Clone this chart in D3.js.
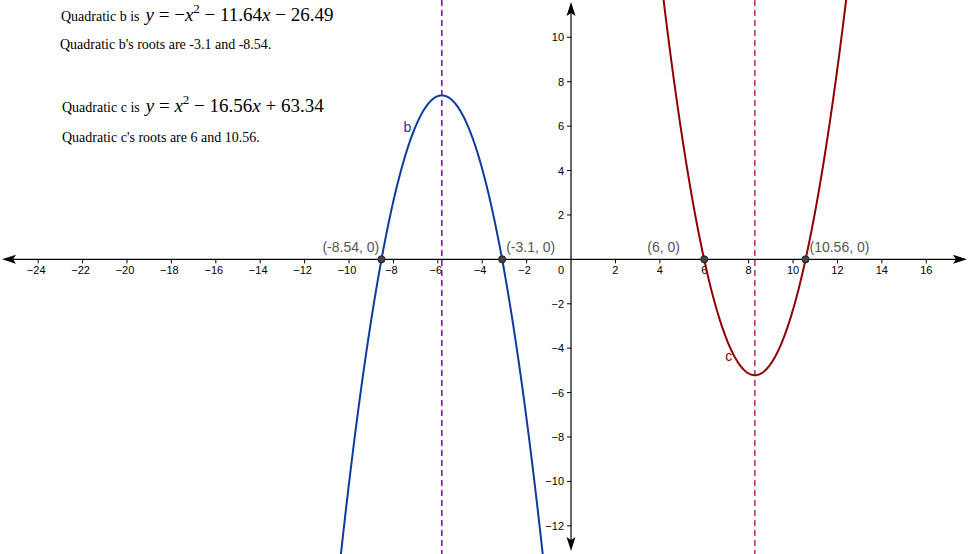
<!DOCTYPE html>
<html><head><meta charset="utf-8">
<script src="https://cdn.jsdelivr.net/npm/d3@7"></script>
<style>
html,body{margin:0;padding:0;background:#fff;}
svg{display:block;}
</style></head>
<body>
<svg id="chart" width="970" height="554"></svg>
<script>
// ---- data ----
const quadB = {name: "b", a: -1, b: -11.64, c: -26.49};
const quadC = {name: "c", a: 1, b: -16.56, c: 63.34};
const rootsB = [-8.54, -3.1];
const rootsC = [6, 10.56];
const rootLabels = ["(-8.54, 0)", "(-3.1, 0)", "(6, 0)", "(10.56, 0)"];
const xTicks = [-24,-22,-20,-18,-16,-14,-12,-10,-8,-6,-4,-2,2,4,6,8,10,12,14,16];
const yTicks = [-12,-10,-8,-6,-4,-2,2,4,6,8,10];
const textLines = [
  "Quadratic b's roots are -3.1 and -8.54.",
  "Quadratic c's roots are 6 and 10.56."
];

const W = 970, H = 554;
const svg = d3.select("#chart");
const x = d3.scaleLinear().domain([-25.72, 17.97]).range([0, W]);
const y = d3.scaleLinear().domain([-13.27, 11.68]).range([H, 0]);
const x0 = x(0), y0 = y(0);

const f = q => v => q.a*v*v + q.b*v + q.c;

const defs = svg.append("defs");
defs.append("clipPath").attr("id","clip").append("rect").attr("width",W).attr("height",H);

const ax = svg.append("g");
ax.append("line").attr("x1",8).attr("x2",W-8).attr("y1",y0).attr("y2",y0).attr("stroke","#000").attr("stroke-width",1.2);
ax.append("line").attr("x1",x0).attr("x2",x0).attr("y1",8).attr("y2",H-8).attr("stroke","#000").attr("stroke-width",1.2);
ax.append("path").attr("d",`M2,${y0} L16,${y0-4.5} L13,${y0} L16,${y0+4.5} Z`).attr("fill","#000");
ax.append("path").attr("d",`M${W-3},${y0} L${W-17},${y0-4.5} L${W-14},${y0} L${W-17},${y0+4.5} Z`).attr("fill","#000");
ax.append("path").attr("d",`M${x0},2 L${x0-4.5},16 L${x0},13 L${x0+4.5},16 Z`).attr("fill","#000");
ax.append("path").attr("d",`M${x0},${H-3} L${x0-4.5},${H-17} L${x0},${H-14} L${x0+4.5},${H-17} Z`).attr("fill","#000");

const fmt = v => v < 0 ? "\u2212" + Math.abs(v) : String(v);

const xt = ax.selectAll(".xt").data(xTicks).enter().append("g");
xt.append("line").attr("x1",d=>x(d)).attr("x2",d=>x(d)).attr("y1",y0).attr("y2",y0+4).attr("stroke","#000");
xt.append("text").attr("x",d=>x(d) - (d<0?2:0)).attr("y",y0+15).attr("text-anchor","middle")
  .attr("font-family","Liberation Sans, Arial, sans-serif").attr("font-size",11).text(d=>fmt(d));
const yt = ax.selectAll(".yt").data(yTicks).enter().append("g");
yt.append("line").attr("x1",x0-4).attr("x2",x0).attr("y1",d=>y(d)).attr("y2",d=>y(d)).attr("stroke","#000");
yt.append("text").attr("x",x0-7).attr("y",d=>y(d)+4).attr("text-anchor","end")
  .attr("font-family","Liberation Sans, Arial, sans-serif").attr("font-size",11).text(d=>fmt(d));
ax.append("text").attr("x",x0-7).attr("y",y0+15).attr("text-anchor","end")
  .attr("font-family","Liberation Sans, Arial, sans-serif").attr("font-size",11).text("0");

const plot = svg.append("g").attr("clip-path","url(#clip)");

const vb = -quadB.b/(2*quadB.a), vc = -quadC.b/(2*quadC.a);
plot.append("line").attr("x1",x(vb)).attr("x2",x(vb)).attr("y1",0).attr("y2",H)
  .attr("stroke","#7b1fa2").attr("stroke-width",1.6).attr("stroke-dasharray","6,4");
plot.append("line").attr("x1",x(vc)).attr("x2",x(vc)).attr("y1",0).attr("y2",H)
  .attr("stroke","#c2185b").attr("stroke-width",1.4).attr("stroke-dasharray","6,4");

const line = d3.line().x(d=>x(d[0])).y(d=>y(d[1]));
const xs = d3.range(-25.72, 17.98, 0.02);
function curve(q, color){
  const g = f(q);
  const pts = xs.map(v=>[v,g(v)]).filter(p=>p[1] > -16 && p[1] < 15);
  plot.append("path").datum(pts).attr("d",line).attr("fill","none")
    .attr("stroke",color).attr("stroke-width",2);
}
curve(quadB, "#0d3c9e");
curve(quadC, "#900000");

svg.append("text").attr("x",x(-7.55)).attr("y",y(5.75)).attr("fill","#0d3c9e")
  .attr("font-family","Liberation Sans, Arial, sans-serif").attr("font-size",14).text("b");
svg.append("text").attr("x",x(6.95)).attr("y",y(-4.6)).attr("fill","#900000")
  .attr("font-family","Liberation Sans, Arial, sans-serif").attr("font-size",14).text("c");

const roots = rootsB.concat(rootsC);
const labelDx = [-59, 4, -57, 4];
svg.selectAll(".rp").data(roots).enter().append("circle")
  .attr("cx",d=>x(d)).attr("cy",y0).attr("r",3.6).attr("fill","#444").attr("stroke","#111").attr("stroke-width",0.8);
svg.selectAll(".rl").data(roots).enter().append("text")
  .attr("x",(d,i)=>x(d)+labelDx[i]).attr("y",y0-7)
  .attr("fill","#555").attr("font-family","Liberation Sans, Arial, sans-serif").attr("font-size",14)
  .text((d,i)=>rootLabels[i]);

const serif = "Liberation Serif, Times New Roman, serif";
function mathLine(xp, yp, label, parts){
  const t = svg.append("text").attr("x",xp).attr("y",yp).attr("font-family",serif).attr("fill","#000");
  t.append("tspan").attr("font-size",14).text(label);
  parts.forEach(p=>{
    const s = t.append("tspan").attr("font-size",p.sup?13:19).text(p.t);
    if(p.it) s.attr("font-style","italic");
    if(p.dx) s.attr("dx",p.dx);
    if(p.sup) s.attr("dy",-8);
    if(p.down) s.attr("dy",8);
  });
}
const fmtNum = v => Math.abs(v).toFixed(2);
mathLine(61, 21, "Quadratic b is", [
  {t:"y", it:true, dx:6},{t:" =  \u2212"},{t:"x", it:true},{t:"2", sup:true},
  {t:" \u2212  " + fmtNum(quadB.b), down:true},{t:"x", it:true},{t:" \u2212  " + fmtNum(quadB.c)}
]);
svg.append("text").attr("x",60).attr("y",49).attr("font-family",serif).attr("font-size",14).text(textLines[0]);
mathLine(62, 112, "Quadratic c is", [
  {t:"y", it:true, dx:6},{t:" =  "},{t:"x", it:true},{t:"2", sup:true},
  {t:" \u2212  " + fmtNum(quadC.b), down:true},{t:"x", it:true},{t:" +  " + fmtNum(quadC.c)}
]);
svg.append("text").attr("x",62).attr("y",142).attr("font-family",serif).attr("font-size",14).text(textLines[1]);
</script>
</body></html>
